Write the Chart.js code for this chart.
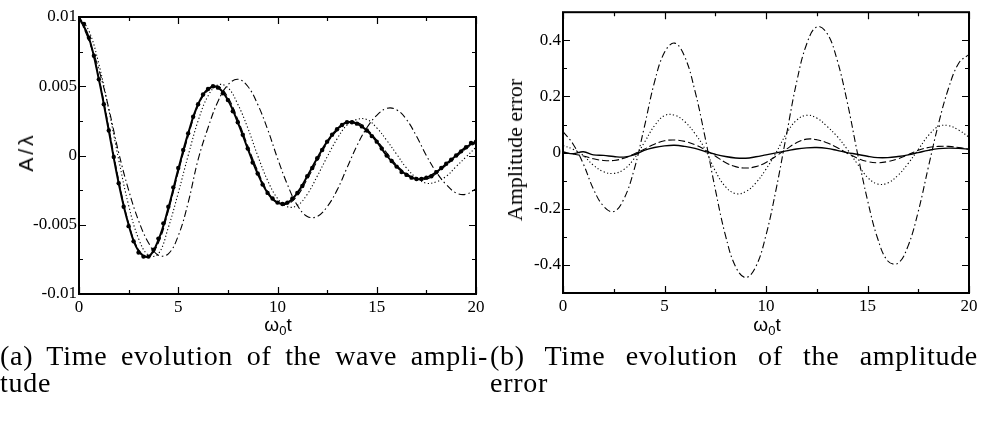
<!DOCTYPE html>
<html>
<head>
<meta charset="utf-8">
<script src="https://cdn.jsdelivr.net/npm/chart.js@4.4.1/dist/chart.umd.min.js"></script>
<style>
  body { margin: 0; background: #fff; width: 981px; height: 421px; position: relative; overflow: hidden; font-family: 'Liberation Serif', serif; color: #000; }
  canvas { position: absolute; top: 0; }
  .ytitle { position: absolute; transform: translate(-50%, -50%) rotate(-90deg); white-space: nowrap; }
  .xtitle { position: absolute; transform: translateX(-50%); font-family: 'Liberation Sans', Arial, sans-serif; font-size: 19px; line-height: 22px; white-space: nowrap; }
  .xtitle sub { font-size: 13px; vertical-align: -4px; }
  .cap { position: absolute; font-size: 28px; line-height: 27px; letter-spacing: 0.7px; white-space: nowrap; }
  .just { text-align: justify; text-align-last: justify; white-space: normal; }
</style>
</head>
<body>
<canvas id="ampChart" width="490" height="315" style="left:0"></canvas>
<canvas id="errChart" width="491" height="315" style="left:490px"></canvas>

<div class="ytitle" style="left:26px; top:152px; font-family:'Liberation Sans',Arial,sans-serif; font-size:21px; letter-spacing:3px;">A/λ</div>
<div class="ytitle" style="left:515px; top:150px; font-size:22px;">Amplitude error</div>
<div class="xtitle" style="left:278px; top:314px;">ω<sub>0</sub>t</div>
<div class="xtitle" style="left:767px; top:314px;">ω<sub>0</sub>t</div>

<div class="cap just" style="left:0; top:342px; width:488px;">(a) Time evolution of the wave ampli-</div>
<div class="cap" style="left:0; top:369px;">tude</div>
<div class="cap just" style="left:490px; top:342px; width:488px;">(b) Time evolution of the amplitude</div>
<div class="cap" style="left:490px; top:369px;">error</div>

<script>
// ---- data ----
const tHalf = [0,0.5,1,1.5,2,2.5,3,3.5,4,4.5,5,5.5,6,6.5,7,7.5,8,8.5,9,9.5,10,10.5,11,11.5,12,12.5,13,13.5,14,14.5,15,15.5,16,16.5,17,17.5,18,18.5,19,19.5,20];
const tQuarter = [0,0.25,0.5,0.75,1,1.25,1.5,1.75,2,2.25,2.5,2.75,3,3.25,3.5,3.75,4,4.25,4.5,4.75,5,5.25,5.5,5.75,6,6.25,6.5,6.75,7,7.25,7.5,7.75,8,8.25,8.5,8.75,9,9.25,9.5,9.75,10,10.25,10.5,10.75,11,11.25,11.5,11.75,12,12.25,12.5,12.75,13,13.25,13.5,13.75,14,14.25,14.5,14.75,15,15.25,15.5,15.75,16,16.25,16.5,16.75,17,17.25,17.5,17.75,18,18.25,18.5,18.75,19,19.25,19.5,19.75,20];

// (a) wave amplitude A/lambda
const ampDots = [0.0100,0.0095,0.0085,0.0072,0.0055,0.0037,0.0018,-0.0001,-0.0020,-0.0037,-0.0051,-0.0062,-0.0070,-0.0073,-0.0073,-0.0068,-0.0060,-0.0049,-0.0037,-0.0023,-0.0009,0.0004,0.0016,0.0028,0.0037,0.0044,0.0048,0.0050,0.0049,0.0045,0.0040,0.0032,0.0024,0.0015,0.0005,-0.0005,-0.0013,-0.0021,-0.0027,-0.0031,-0.0034,-0.0035,-0.0034,-0.0031,-0.0027,-0.0022,-0.0015,-0.0009,-0.0002,0.0004,0.0010,0.0015,0.0019,0.0022,0.0024,0.0024,0.0023,0.0021,0.0018,0.0014,0.0010,0.0005,0.0000,-0.0004,-0.0008,-0.0012,-0.0014,-0.0016,-0.0017,-0.0017,-0.0016,-0.0015,-0.0012,-0.0009,-0.0006,-0.0003,0.0000,0.0003,0.0006,0.0009,0.0010];
const ampSolid = [0.0100,0.0085,0.0055,0.0018,-0.0020,-0.0050,-0.0069,-0.0073,-0.0061,-0.0038,-0.0010,0.0016,0.0037,0.0048,0.0049,0.0040,0.0024,0.0005,-0.0013,-0.0027,-0.0034,-0.0034,-0.0027,-0.0015,-0.0002,0.0010,0.0019,0.0024,0.0023,0.0018,0.0010,0.0000,-0.0008,-0.0014,-0.0017,-0.0016,-0.0012,-0.0006,0.0000,0.0006,0.0010];
const ampDashed = [0.0100,0.0084,0.0056,0.0020,-0.0018,-0.0049,-0.0068,-0.0073,-0.0063,-0.0040,-0.0012,0.0014,0.0036,0.0047,0.0050,0.0042,0.0026,0.0007,-0.0011,-0.0026,-0.0034,-0.0035,-0.0029,-0.0017,-0.0004,0.0009,0.0018,0.0024,0.0024,0.0019,0.0011,0.0002,-0.0007,-0.0013,-0.0017,-0.0017,-0.0013,-0.0007,-0.0001,0.0005,0.0009];
const ampDotted = [0.0100,0.0090,0.0066,0.0033,-0.0003,-0.0036,-0.0060,-0.0072,-0.0071,-0.0052,-0.0027,0.0000,0.0025,0.0043,0.0051,0.0049,0.0037,0.0020,0.0000,-0.0018,-0.0031,-0.0037,-0.0036,-0.0028,-0.0015,-0.0001,0.0012,0.0022,0.0026,0.0026,0.0020,0.0011,0.0001,-0.0009,-0.0016,-0.0020,-0.0019,-0.0015,-0.0008,-0.0001,0.0006];
const ampDashDot = [0.0100,0.0083,0.0062,0.0034,0.0002,-0.0025,-0.0047,-0.0063,-0.0072,-0.0071,-0.0058,-0.0034,-0.0003,0.0020,0.0039,0.0051,0.0055,0.0050,0.0037,0.0019,-0.0002,-0.0021,-0.0036,-0.0044,-0.0044,-0.0037,-0.0025,-0.0009,0.0007,0.0020,0.0029,0.0034,0.0033,0.0026,0.0014,0.0000,-0.0012,-0.0021,-0.0027,-0.0028,-0.0024];

// (b) amplitude error
const errSolid = [0.002,-0.004,0.003,-0.008,-0.010,-0.014,-0.016,-0.008,0.008,0.018,0.024,0.026,0.022,0.015,0.004,-0.006,-0.014,-0.019,-0.020,-0.015,-0.008,-0.001,0.006,0.013,0.017,0.018,0.015,0.008,0.000,-0.006,-0.013,-0.018,-0.018,-0.014,-0.008,0.000,0.008,0.014,0.016,0.015,0.012];
const errDashed = [0.000,-0.005,-0.012,-0.022,-0.028,-0.028,-0.020,-0.005,0.012,0.030,0.042,0.045,0.040,0.028,0.010,-0.012,-0.035,-0.050,-0.055,-0.050,-0.035,-0.012,0.012,0.035,0.048,0.046,0.035,0.018,-0.002,-0.020,-0.032,-0.036,-0.032,-0.022,-0.008,0.008,0.018,0.022,0.022,0.018,0.012];
const errDotted = [0.025,0.012,-0.010,-0.045,-0.068,-0.074,-0.060,-0.022,0.035,0.095,0.132,0.133,0.110,0.068,0.012,-0.065,-0.121,-0.146,-0.139,-0.108,-0.059,0.000,0.067,0.115,0.133,0.123,0.094,0.058,0.012,-0.040,-0.088,-0.112,-0.108,-0.081,-0.039,0.011,0.061,0.093,0.096,0.080,0.055];
const errDashDot = [0.075,0.030,-0.040,-0.130,-0.191,-0.210,-0.165,-0.062,0.089,0.249,0.357,0.390,0.341,0.220,0.054,-0.130,-0.294,-0.406,-0.445,-0.406,-0.294,-0.130,0.060,0.248,0.386,0.448,0.426,0.331,0.181,0.000,-0.169,-0.306,-0.386,-0.394,-0.332,-0.210,-0.051,0.103,0.231,0.319,0.350];

// ticks
const xMajor = [0,5,10,15,20];
const xMinor = [2.5,7.5,12.5,17.5];
const ampMajor = [-0.01,-0.005,0,0.005,0.01];
const ampMajorLabels = ['-0.01','-0.005','0','0.005','0.01'];
const ampMinor = [-0.0075,-0.0025,0.0025,0.0075];
const errMajor = [-0.4,-0.2,0,0.2,0.4];
const errMajorLabels = ['-0.4','-0.2','0','0.2','0.4'];
const errMinor = [-0.3,-0.1,0.1,0.3];

const pts = (xs, ys) => xs.map((x, i) => ({ x: x, y: ys[i] }));
const tickFont = { family: "'Liberation Serif', 'Times New Roman', serif", size: 17 };

// inward ticks on all four sides + frame
const frameTicks = {
  id: 'frameTicks',
  afterDatasetsDraw(chart, args, o) {
    const { ctx, chartArea: a, scales } = chart;
    const x = scales.x, y = scales.y;
    ctx.save();
    ctx.strokeStyle = '#000';
    ctx.lineWidth = 1.2;
    ctx.beginPath();
    const vt = (vals, len) => vals.forEach(v => {
      const p = Math.round(x.getPixelForValue(v)) + 0.5;
      ctx.moveTo(p, a.bottom); ctx.lineTo(p, a.bottom - len);
      ctx.moveTo(p, a.top); ctx.lineTo(p, a.top + len);
    });
    const ht = (vals, len) => vals.forEach(v => {
      const p = Math.round(y.getPixelForValue(v)) + 0.5;
      ctx.moveTo(a.left, p); ctx.lineTo(a.left + len, p);
      ctx.moveTo(a.right, p); ctx.lineTo(a.right - len, p);
    });
    vt(o.xMajor, 7); vt(o.xMinor, 4);
    ht(o.yMajor, 7); ht(o.yMinor, 4);
    ctx.stroke();
    ctx.lineWidth = 2;
    ctx.strokeRect(a.left, a.top, a.right - a.left, a.bottom - a.top);
    ctx.restore();
  }
};

function makeChart(id, cfg) {
  return new Chart(document.getElementById(id), {
    type: 'line',
    data: { datasets: cfg.datasets },
    options: {
      responsive: false,
      animation: false,
      devicePixelRatio: 1,
      layout: { padding: { top: cfg.top, right: cfg.right, left: 0, bottom: 0 } },
      elements: { point: { radius: 0 }, line: { tension: 0.4, borderColor: '#000', borderWidth: 1.1 } },
      plugins: {
        legend: { display: false },
        tooltip: { enabled: false },
        frameTicks: { xMajor: xMajor, xMinor: xMinor, yMajor: cfg.yMajor, yMinor: cfg.yMinor }
      },
      scales: {
        x: {
          type: 'linear', min: 0, max: 20,
          grid: { display: false, drawTicks: false },
          border: { display: false },
          ticks: { font: tickFont, color: '#000', padding: 3, maxRotation: 0, autoSkip: false },
          afterBuildTicks: s => { s.ticks = xMajor.map(v => ({ value: v })); },
          afterFit: s => { s.height = cfg.xHeight; }
        },
        y: {
          type: 'linear', min: cfg.yMin, max: cfg.yMax,
          grid: { display: false, drawTicks: false },
          border: { display: false },
          ticks: { font: tickFont, color: '#000', padding: 2, autoSkip: false, callback: (v, i) => cfg.yLabels[i] },
          afterBuildTicks: s => { s.ticks = cfg.yMajor.map(v => ({ value: v })); },
          afterFit: s => { s.width = cfg.yWidth; }
        }
      }
    },
    plugins: [frameTicks]
  });
}

makeChart('ampChart', {
  top: 17, right: 14, xHeight: 21, yWidth: 79,
  yMin: -0.01, yMax: 0.01, yMajor: ampMajor, yMinor: ampMinor, yLabels: ampMajorLabels,
  datasets: [
    { data: pts(tHalf, ampDashDot), borderDash: [7, 3, 1.5, 3] },
    { data: pts(tHalf, ampDotted), borderDash: [1.2, 2.3] },
    { data: pts(tHalf, ampDashed), borderDash: [7, 3] },
    { data: pts(tHalf, ampSolid), borderWidth: 2 },
    { data: pts(tQuarter, ampDots), showLine: false, pointRadius: 2.2, pointBackgroundColor: '#000', pointBorderWidth: 0 }
  ]
});

makeChart('errChart', {
  top: 9, right: 12, xHeight: 22, yWidth: 73,
  yMin: -0.5, yMax: 0.5, yMajor: errMajor, yMinor: errMinor, yLabels: errMajorLabels,
  datasets: [
    { data: pts(tHalf, errDashDot), borderDash: [7, 3, 1.5, 3] },
    { data: pts(tHalf, errDotted), borderDash: [1.2, 2.3] },
    { data: pts(tHalf, errDashed), borderDash: [7, 3] },
    { data: pts(tHalf, errSolid), borderWidth: 1.4 }
  ]
});
</script>
</body>
</html>
